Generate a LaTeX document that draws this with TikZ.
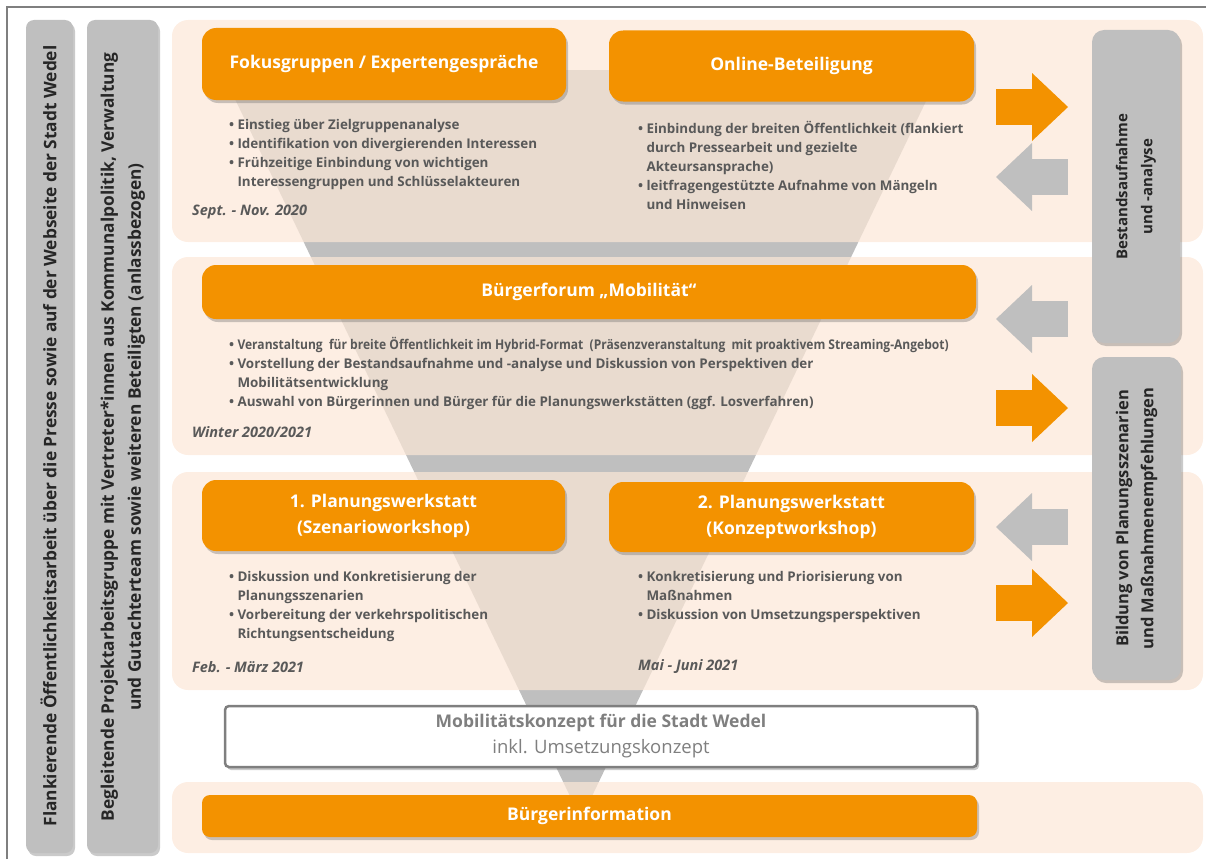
\documentclass[tikz,border=0pt]{standalone}
\usepackage{fontspec}
\setmainfont{Open Sans}
\usepackage{graphicx}
\usetikzlibrary{arrows.meta, positioning, shadows}

\definecolor{orangeW}{RGB}{243,146,0}
\definecolor{grauBox}{RGB}{191,191,191}
\definecolor{baender}{RGB}{252,231,215}
\definecolor{textgrau}{RGB}{89,89,89}
\definecolor{rahmen}{RGB}{127,127,127}

\newcommand{\punkt}{\textbullet\ }
\newcommand{\einzug}{\hphantom{\textbullet\ }}

\begin{document}
\begin{tikzpicture}[x=1pt, y=-1pt,
  schatten/.style={drop shadow={shadow xshift=2pt, shadow yshift=-3pt, opacity=0.35, fill=black!60}},
  band/.style={fill=baender, fill opacity=0.7, rounded corners=16pt},
  phase/.style={rectangle, rounded corners=14pt, fill=orangeW, schatten, text=white,
               font=\fontsize{17.5}{26}\selectfont\bfseries, align=center},
  seite/.style={rectangle, rounded corners=8pt, fill=grauBox, schatten},
  seitentext/.style={rotate=90, align=center, text=black!85,
               font=\fontsize{17.3}{27}\selectfont\bfseries},
  ergebnis/.style={rectangle, rounded corners=12pt, fill=grauBox, schatten},
  punkte/.style={inner sep=0pt, align=left, text=textgrau,
               font=\fontsize{13.4}{19}\selectfont\bfseries},
  zeit/.style={inner sep=0pt, anchor=west, text=textgrau,
               font=\fontsize{14.5}{16}\selectfont\bfseries\itshape},
  pfeilO/.style={line width=36pt, orangeW, -{Triangle[length=36pt, width=68pt, line width=0pt]}},
  pfeilG/.style={line width=36pt, grauBox, -{Triangle[length=36pt, width=68pt, line width=0pt]}}
]
\useasboundingbox (0,0) rectangle (1206,859);
\draw[rahmen, line width=1.5pt] (7,859) |- (1206,7);

% ---- Seitenleisten ----
\node[seite, minimum width=47pt, minimum height=833pt] (flank) at (49.5,436.5) {};
\node[seitentext] at (48.5,436) {Flankierende Öffentlichkeitsarbeit über die Presse sowie auf der Webseite der Stadt Wedel};
\node[seite, minimum width=71pt, minimum height=833pt] (begleit) at (122.5,436.5) {};
\node[seitentext] at (123,437) {Begleitende Projektarbeitsgruppe mit Vertreter*innen aus Kommunalpolitik, Verwaltung\\
  und Gutachterteam sowie weiteren Beteiligten (anlassbezogen)};

% ---- Trichter und Bänder ----
\fill[grauBox] (221,70) -- (941,70) -- (581,819) -- cycle;
\fill[band] (172,20) rectangle (1203,242);
\fill[band] (172,257) rectangle (1203,455);
\fill[band] (172,472) rectangle (1203,690);
\fill[band] (172,782) rectangle (1203,853);

% ---- Phase 1 ----
\node[phase, minimum width=364pt, minimum height=72pt] (fokus) at (384,64) {Fokusgruppen / Expertengespräche};
\node[phase, minimum width=365pt, minimum height=71pt] (online) at (791.5,66) {Online-Beteiligung};
\node[punkte, below right=19pt and 27pt of fokus.south west] (fokusTxt) {\punkt Einstieg über Zielgruppenanalyse\\
  \punkt Identifikation von divergierenden Interessen\\
  \punkt Frühzeitige Einbindung von wichtigen\\
  \einzug Interessengruppen und Schlüsselakteuren};
\node[punkte, below right=19pt and 29pt of online.south west] (onlineTxt) {\punkt Einbindung der breiten Öffentlichkeit (flankiert\\
  \einzug durch Pressearbeit und gezielte\\
  \einzug Akteursansprache)\\
  \punkt leitfragengestützte Aufnahme von Mängeln\\
  \einzug und Hinweisen};
\node[zeit] (zeit1) at (192,212) {Sept. - Nov. 2020};

% ---- Phase 2 ----
\node[phase, minimum width=774pt, minimum height=54pt] (forum) at (589,292) {Bürgerforum „Mobilität“};
\node[punkte, below right=18pt and 27pt of forum.south west] (forumTxt) {\punkt \scalebox{0.9}[1]{Veranstaltung\ \ für breite Öffentlichkeit im Hybrid-Format\ \ (Präsenzveranstaltung\ \ mit proaktivem Streaming-Angebot)}\\
  \punkt Vorstellung der Bestandsaufnahme und -analyse und Diskussion von Perspektiven der\\
  \einzug Mobilitätsentwicklung\\
  \punkt Auswahl von Bürgerinnen und Bürger für die Planungswerkstätten (ggf. Losverfahren)};
\node[zeit] (zeit2) at (192,432) {Winter 2020/2021};

% ---- Phase 3 ----
\node[phase, minimum width=363pt, minimum height=71pt] (werk1) at (383.5,515.5) {1. Planungswerkstatt\\(Szenarioworkshop)};
\node[phase, minimum width=365pt, minimum height=70pt] (werk2) at (791.5,517) {2. Planungswerkstatt\\(Konzeptworkshop)};
\node[punkte, below right=20pt and 27pt of werk1.south west] (werk1Txt) {\punkt Diskussion und Konkretisierung der\\
  \einzug Planungsszenarien\\
  \punkt Vorbereitung der verkehrspolitischen\\
  \einzug Richtungsentscheidung};
\node[punkte, below right=19pt and 29pt of werk2.south west] (werk2Txt) {\punkt Konkretisierung und Priorisierung von\\
  \einzug Maßnahmen\\
  \punkt Diskussion von Umsetzungsperspektiven};
\node[zeit] (zeit3) at (192,667) {Feb. - März 2021};
\node[zeit] (zeit4) at (638,667) {Mai - Juni 2021};

% ---- Ergebnis ----
\node[rectangle, rounded corners=4pt, draw=rahmen, line width=2.5pt, fill=white, schatten,
      minimum width=752pt, minimum height=61pt, align=center, text=rahmen,
      font=\fontsize{17.5}{26}\selectfont] (konzept) at (601,736.5)
  {\textbf{Mobilitätskonzept für die Stadt Wedel}\\{\fontsize{18.5}{26}\selectfont inkl. Umsetzungskonzept}};
\node[phase, rounded corners=8pt, minimum width=775pt, minimum height=42pt] (info) at (589.5,816) {Bürgerinformation};

% ---- Analyse rechts ----
\node[ergebnis, minimum width=88pt, minimum height=313pt] (bestand) at (1136,186.5) {};
\node[seitentext, font=\fontsize{15}{25}\selectfont\bfseries] at (bestand) {Bestandsaufnahme\\und -analyse};
\node[ergebnis, minimum width=89pt, minimum height=323pt] (bildung) at (1136.5,518.5) {};
\node[seitentext, font=\fontsize{16.5}{25}\selectfont\bfseries] at (bildung) {Bildung von Planungsszenarien\\und Maßnahmenempfehlungen};

% ---- Pfeile ----
\foreach \y/\typ in {107/O, 408/O, 603/O}{
  \coordinate (a\y) at (996,\y);
  \coordinate (b\y) at (1068,\y);
  \draw[pfeil\typ] (a\y) -- (b\y);
}
\foreach \y/\typ in {177/G, 319/G, 527/G}{
  \coordinate (a\y) at (1068,\y);
  \coordinate (b\y) at (996,\y);
  \draw[pfeil\typ] (a\y) -- (b\y);
}
\end{tikzpicture}
\end{document}
